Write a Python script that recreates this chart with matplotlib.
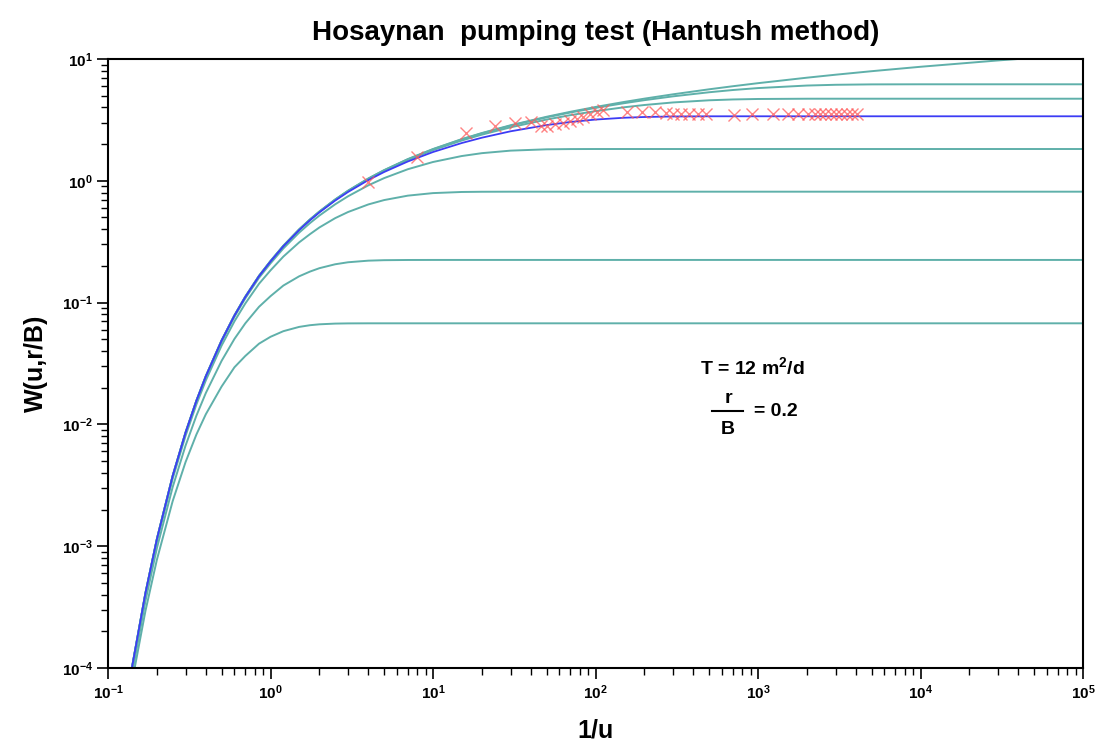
import matplotlib
matplotlib.use("Agg")
import matplotlib.pyplot as plt
from matplotlib.lines import Line2D
from matplotlib.ticker import LogLocator, NullFormatter

plt.rcParams['font.family'] = ['Liberation Sans', 'DejaVu Sans']
plt.rcParams['font.weight'] = 'bold'
plt.rcParams['mathtext.fontset'] = 'custom'
plt.rcParams['mathtext.rm'] = 'Liberation Sans:bold'
plt.rcParams['mathtext.bf'] = 'Liberation Sans:bold'
plt.rcParams['mathtext.default'] = 'bf'

# 1/u positions where the type curves were read
inv_u = [0.14, 0.17, 0.2, 0.25, 0.3, 0.35, 0.4, 0.5, 0.6, 0.7, 0.85, 1, 1.2, 1.5,
         1.75, 2, 2.5, 3, 4, 5, 7, 10, 15, 20, 30, 50, 70, 100, 150, 200, 300,
         500, 700, 1000, 2000, 3000, 5000, 1e4, 3e4, 1e5]

# type curves W(u, r/B)
w_theis = [9.84e-5, 4.122e-4, 1.148e-3, 3.779e-3, 8.574e-3, 0.015669, 0.02491, 0.0489,
           0.07861, 0.11194, 0.166, 0.21938, 0.29295, 0.3988, 0.48166, 0.55977,
           0.70238, 0.82889, 1.04428, 1.22265, 1.50661, 1.82292, 2.19639, 2.4679,
           2.85703, 3.35471, 3.68552, 4.03793, 4.44008, 4.7261, 5.12989, 5.63939,
           5.97529, 6.33154, 7.02418, 7.4295, 7.94017, 8.63322, 9.7318, 10.9357]
w_rb005 = [9.84e-5, 4.122e-4, 1.148e-3, 3.779e-3, 8.574e-3, 0.015668, 0.02491, 0.04888,
           0.07859, 0.1119, 0.16594, 0.21929, 0.29277, 0.39865, 0.48117, 0.55936,
           0.70141, 0.82756, 1.04219, 1.21996, 1.50209, 1.81597, 2.18546, 2.45312,
           2.83478, 3.31828, 3.63537, 3.96787, 4.33788, 4.59278, 4.9365, 5.33262,
           5.56354, 5.77154, 6.05474, 6.14202, 6.18882, 6.2, 6.2, 6.2]
w_rb01 = [9.84e-5, 4.12e-4, 1.1475e-3, 3.777e-3, 8.569e-3, 0.015658, 0.0249, 0.04884,
          0.07852, 0.11173, 0.1656, 0.21874, 0.29189, 0.39697, 0.47908, 0.55637,
          0.69716, 0.82171, 1.03297, 1.20708, 1.48254, 1.78643, 2.1403, 2.39361,
          2.74863, 3.18437, 3.45851, 3.73224, 4.01457, 4.19101, 4.3986, 4.58178,
          4.65434, 4.6966, 4.71906, 4.72, 4.72, 4.72, 4.72, 4.72]
w_rb02 = [9.83e-5, 4.116e-4, 1.146e-3, 3.771e-3, 8.55e-3, 0.015625, 0.02482, 0.04869,
          0.0782, 0.11126, 0.16478, 0.21744, 0.28985, 0.39359, 0.47442, 0.55029,
          0.68806, 0.80936, 1.0136, 1.18044, 1.44094, 1.7229, 2.041, 2.25929,
          2.54885, 2.86755, 3.03966, 3.18266, 3.2933, 3.3408, 3.37407, 3.38519,
          3.386, 3.386, 3.386, 3.386, 3.386, 3.386, 3.386, 3.386]
w_rb05 = [9.76e-5, 4.083e-4, 1.1356e-3, 3.729e-3, 8.44e-3, 0.015394, 0.02442, 0.04772,
          0.07643, 0.10842, 0.15992, 0.20998, 0.27846, 0.37525, 0.44958, 0.51852,
          0.64118, 0.74636, 0.91839, 1.05161, 1.24471, 1.4269, 1.59637, 1.68632,
          1.76875, 1.81346, 1.82184, 1.8239, 1.824, 1.824, 1.824, 1.824,
          1.824, 1.824, 1.824, 1.824, 1.824, 1.824, 1.824, 1.824]
w_rb1 = [9.54e-5, 3.97e-4, 1.099e-3, 3.58e-3, 8.05e-3, 0.01459, 0.02299, 0.04436,
         0.0702, 0.09842, 0.14281, 0.18391, 0.23874, 0.312, 0.36487, 0.414,
         0.4936, 0.5541, 0.63967, 0.6946, 0.7553, 0.7925, 0.8095, 0.8129,
         0.8139, 0.814, 0.814, 0.814, 0.814, 0.814, 0.814, 0.814,
         0.814, 0.814, 0.814, 0.814, 0.814, 0.814, 0.814, 0.814]
w_rb2 = [8.7e-5, 3.548e-4, 9.65e-4, 3.057e-3, 6.69e-3, 0.0118, 0.01811, 0.03322,
         0.05035, 0.06762, 0.09238, 0.11292, 0.13805, 0.16434, 0.17975, 0.19168,
         0.2064, 0.21435, 0.22097, 0.22297, 0.22383, 0.224, 0.224, 0.224,
         0.224, 0.224, 0.224, 0.224, 0.224, 0.224, 0.224, 0.224,
         0.224, 0.224, 0.224, 0.224, 0.224, 0.224, 0.224, 0.224]
w_rb3 = [7.45e-5, 2.94e-4, 7.76e-4, 2.344e-3, 4.9e-3, 0.008265, 0.01212, 0.02045,
         0.02945, 0.03647, 0.04601, 0.05238, 0.05826, 0.06316, 0.06522, 0.06633,
         0.06724, 0.0675, 0.0676, 0.0676, 0.0676, 0.0676, 0.0676, 0.0676,
         0.0676, 0.0676, 0.0676, 0.0676, 0.0676, 0.0676, 0.0676, 0.0676,
         0.0676, 0.0676, 0.0676, 0.0676, 0.0676, 0.0676, 0.0676, 0.0676]

# field data (1/u, W)
obs_inv_u = [4, 8, 16, 24, 32, 40, 46, 50, 56, 63, 70, 77, 84, 93, 102, 111,
             156, 194, 234, 270, 299, 335, 375, 426, 477, 709, 925, 1230, 1524,
             1762, 2035, 2240, 2420, 2600, 2810, 3020, 3260, 3510, 3780, 4080]
obs_w = [0.977, 1.568, 2.469, 2.818, 3.01, 3.068, 2.818, 2.834, 2.926, 2.982,
         3.097, 3.217, 3.36, 3.535, 3.672, 3.814, 3.692, 3.692, 3.672, 3.602,
         3.535, 3.535, 3.535, 3.535, 3.535, 3.469, 3.52, 3.52, 3.52, 3.52,
         3.52, 3.52, 3.52, 3.52, 3.52, 3.52, 3.52, 3.52, 3.52, 3.52]

x_ticks = [1e-1, 1e0, 1e1, 1e2, 1e3, 1e4, 1e5]
y_ticks = [1e-4, 1e-3, 1e-2, 1e-1, 1e0, 1e1]

teal = '#5fb0aa'
W, H = 1100, 749

fig = plt.figure(figsize=(11, 7.49), dpi=100)
ax = fig.add_axes([108 / W, 1 - 668 / H, 975 / W, 609 / H])

for w in [w_theis, w_rb005, w_rb01, w_rb05, w_rb1, w_rb2, w_rb3]:
    ax.plot(inv_u, w, color=teal, lw=1.4)
ax.plot(inv_u, w_rb02, color='#3c3cf5', lw=1.3)
ax.plot(obs_inv_u, obs_w, 'x', color='#ff5a5a', ms=8.5, mew=1.0, alpha=0.75, zorder=4)

ax.set_xscale('log')
ax.set_yscale('log')
ax.set_xticks(x_ticks)
ax.set_yticks(y_ticks)
ax.xaxis.set_minor_locator(LogLocator(base=10, subs=range(2, 10), numticks=20))
ax.yaxis.set_minor_locator(LogLocator(base=10, subs=range(2, 10), numticks=20))
ax.xaxis.set_minor_formatter(NullFormatter())
ax.yaxis.set_minor_formatter(NullFormatter())
ax.set_xlim(0.1, 1e5)
ax.set_ylim(1e-4, 10)

for s in ax.spines.values():
    s.set_linewidth(1.5)
ax.tick_params(which='major', direction='out', length=8, width=1.2, labelsize=11, pad=3)
ax.tick_params(which='minor', direction='out', length=5, width=1)

ax.set_title('Hosaynan  pumping test (Hantush method)', fontsize=20,
             fontweight='bold', pad=14)
ax.set_xlabel('1/u', fontsize=18, fontweight='bold', labelpad=12)
ax.set_ylabel('W(u,r/B)', fontsize=18, fontweight='bold', labelpad=10)

# annotation
fig.text(700 / W, 1 - 367 / H, r'T = 12 m$^2$/d', fontsize=14, fontweight='bold',
         va='center', ha='left')
fig.text(728 / W, 1 - 399 / H, 'r', fontsize=14, fontweight='bold', va='center', ha='center')
fig.text(728 / W, 1 - 429 / H, 'B', fontsize=14, fontweight='bold', va='center', ha='center')
fig.add_artist(Line2D([712 / W, 743 / W], [1 - 411 / H, 1 - 411 / H],
                      transform=fig.transFigure, color='black', lw=1.5))
fig.text(754 / W, 1 - 411 / H, '= 0.2', fontsize=14, fontweight='bold',
         va='center', ha='left')

fig.savefig('out.png', dpi=100)
